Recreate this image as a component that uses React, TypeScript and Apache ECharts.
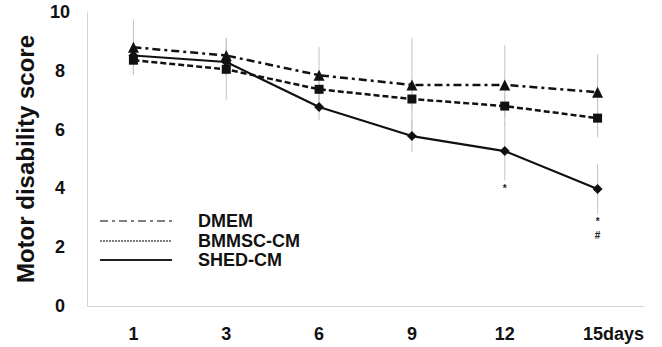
import React, { useEffect, useRef } from "react";
import * as echarts from "echarts";

const days = ["1", "3", "6", "9", "12", "15"];
const dmem = [8.8, 8.52, 7.85, 7.52, 7.52, 7.27];
const bmmsc = [8.36, 8.05, 7.37, 7.04, 6.8, 6.39];
const shed = [8.52, 8.3, 6.77, 5.78, 5.27, 3.98];
const dmemSd = [0.95, 0.6, 0.95, 1.6, 1.35, 1.3];
const bmmscSd = [0.5, 1.05, 0.4, 0.4, 0.4, 0.65];
const shedSd = [0.45, 0.5, 0.45, 0.55, 1.0, 0.85];
const yTicks = { min: 0, max: 10, interval: 2 };
const annotations: [number, number, string][] = [
  [4, 3.98, "*"],
  [5, 2.88, "*"],
  [5, 2.4, "#"],
];
const legendItems = ["DMEM", "BMMSC-CM", "SHED-CM"];

const FONT = "'Liberation Sans', Arial, sans-serif";

function errSeries(means: number[], sds: number[]) {
  return {
    type: "custom",
    z: 1,
    silent: true,
    data: means.map((m, i) => [i, m, sds[i]]),
    encode: { x: 0, y: 1 },
    renderItem: (params: any, api: any) => {
      const i = api.value(0);
      const m = api.value(1);
      const s = api.value(2);
      const p1 = api.coord([i, m + s]);
      const p2 = api.coord([i, m - s]);
      return {
        type: "line",
        shape: { x1: p1[0], y1: p1[1], x2: p2[0], y2: p2[1] },
        style: { stroke: "#c4c4c4", lineWidth: 1 },
      };
    },
  };
}

export default function App() {
  const ref = useRef<HTMLDivElement>(null);
  useEffect(() => {
    if (!ref.current) return;
    const chart = echarts.init(ref.current, null, { renderer: "svg" });
    const lineColor = "#111";
    const legendY = [221, 241, 260];
    const legendTypes: any[] = [[8, 4, 3, 4], [2, 1], "solid"];
    const graphics: any[] = [];
    legendItems.forEach((name, k) => {
      graphics.push({
        type: "line",
        shape: { x1: 100, y1: legendY[k], x2: 172, y2: legendY[k] },
        style: {
          stroke: k === 2 ? "#222" : "#555",
          lineWidth: k === 2 ? 2 : 1.5,
          lineDash: legendTypes[k] === "solid" ? null : legendTypes[k],
        },
      });
      graphics.push({
        type: "text",
        x: 198,
        y: legendY[k],
        style: {
          text: name,
          font: `bold 18px ${FONT}`,
          fill: "#111",
          verticalAlign: "middle",
        },
      });
    });

    chart.setOption({
      animation: false,
      grid: { left: 87, right: 18, top: 12, bottom: 41 },
      xAxis: {
        type: "category",
        data: days,
        axisLine: { lineStyle: { color: "#d4d4d4", width: 1 } },
        axisTick: { show: false },
        axisLabel: {
          interval: 0,
          hideOverlap: false,
          margin: 19,
          color: "#111",
          fontSize: 18,
          fontWeight: "bold",
          fontFamily: FONT,
          formatter: (v: string, idx: number) =>
            idx === days.length - 1 ? `{last|${v}days}` : v,
          rich: {
            last: {
              fontSize: 18,
              fontWeight: "bold",
              fontFamily: FONT,
              color: "#111",
              padding: [0, 0, 0, 32],
            },
          },
        },
      },
      yAxis: {
        type: "value",
        min: yTicks.min,
        max: yTicks.max,
        interval: yTicks.interval,
        name: "Motor disability score",
        nameLocation: "middle",
        nameRotate: 90,
        nameGap: 50,
        nameTextStyle: {
          fontSize: 24,
          fontWeight: "bold",
          fontFamily: FONT,
          color: "#111",
        },
        axisLine: { show: true, lineStyle: { color: "#d4d4d4", width: 1 } },
        axisTick: { show: false },
        splitLine: { show: false },
        axisLabel: {
          margin: 27,
          align: "center",
          color: "#111",
          fontSize: 18,
          fontWeight: "bold",
          fontFamily: FONT,
          padding: [6, 0, 0, 0],
        },
      },
      series: [
        errSeries(dmem, dmemSd),
        errSeries(bmmsc, bmmscSd),
        errSeries(shed, shedSd),
        {
          name: "DMEM",
          type: "line",
          z: 3,
          data: dmem,
          symbol: "triangle",
          symbolSize: 11,
          itemStyle: { color: lineColor },
          lineStyle: { color: lineColor, width: 2.5, type: [8, 4, 3, 4] },
        },
        {
          name: "BMMSC-CM",
          type: "line",
          z: 3,
          data: bmmsc,
          symbol: "rect",
          symbolSize: 9,
          itemStyle: { color: lineColor },
          lineStyle: { color: lineColor, width: 2.5, type: [6, 3] },
        },
        {
          name: "SHED-CM",
          type: "line",
          z: 3,
          data: shed,
          symbol: "diamond",
          symbolSize: 10,
          itemStyle: { color: lineColor },
          lineStyle: { color: lineColor, width: 2.2 },
        },
        {
          type: "custom",
          z: 4,
          silent: true,
          data: annotations,
          encode: { x: 0, y: 1 },
          renderItem: (params: any, api: any) => {
            const p = api.coord([api.value(0), api.value(1)]);
            const idx = params.dataIndex;
            return {
              type: "text",
              x: p[0],
              y: p[1],
              style: {
                text: annotations[idx][2],
                font: `bold 10px ${FONT}`,
                fill: "#222",
                align: "center",
                verticalAlign: "middle",
              },
            };
          },
        },
      ],
      graphic: graphics,
    });
    return () => chart.dispose();
  }, []);
  return (
    <div
      ref={ref}
      style={{ position: "fixed", left: 0, top: 0, width: 662, height: 347, background: "#fff" }}
    />
  );
}
